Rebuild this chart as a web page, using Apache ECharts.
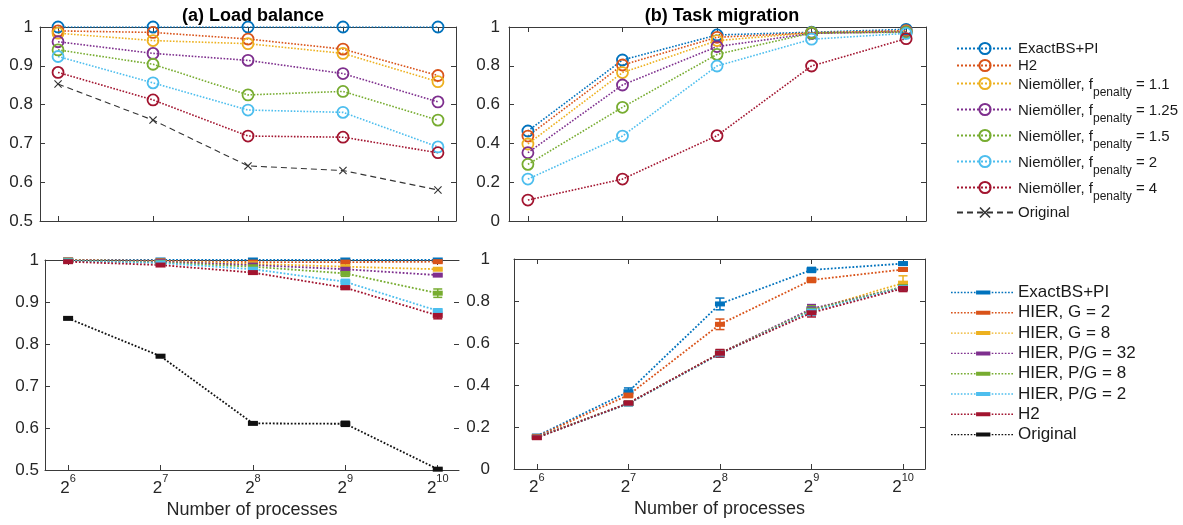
<!DOCTYPE html>
<html>
<head>
<meta charset="utf-8">
<script src="https://cdn.jsdelivr.net/npm/echarts@6/dist/echarts.min.js"></script>
<style>
  html, body { margin: 0; padding: 0; background: #fff; }
  #chart { width: 1183px; height: 525px; }
</style>
</head>
<body>
<div id="chart"></div>
<script>
// Process counts are powers of two; the x axis carries the exponent.
const exponents = [6, 7, 8, 9, 10];

// (a) Load balance
const lbExactBS  = [1.000, 1.000, 1.000, 1.000, 1.000];
const lbH2       = [0.990, 0.986, 0.969, 0.943, 0.875];
const lbNiem11   = [0.984, 0.965, 0.957, 0.932, 0.859];
const lbNiem125  = [0.962, 0.932, 0.914, 0.880, 0.807];
const lbNiem15   = [0.941, 0.904, 0.825, 0.834, 0.760];
const lbNiem2    = [0.924, 0.856, 0.786, 0.780, 0.691];
const lbNiem4    = [0.883, 0.812, 0.719, 0.716, 0.676];
const lbOriginal = [0.853, 0.760, 0.642, 0.630, 0.580];

// (b) Task migration
const tmExactBS  = [0.464, 0.830, 0.959, 0.973, 0.988];
const tmH2       = [0.438, 0.804, 0.947, 0.970, 0.981];
const tmNiem11   = [0.397, 0.765, 0.930, 0.970, 0.977];
const tmNiem125  = [0.352, 0.701, 0.899, 0.967, 0.975];
const tmNiem15   = [0.292, 0.586, 0.859, 0.969, 0.973];
const tmNiem2    = [0.216, 0.438, 0.799, 0.937, 0.967];
const tmNiem4    = [0.108, 0.216, 0.440, 0.799, 0.940];

// Hierarchical variants, load balance (mean and half-width of error bar)
const hlbExactBS = [1.000, 1.000, 1.000, 1.000, 1.000];
const hlbG2      = [1.000, 0.998, 0.995, 0.995, 0.996];
const hlbG8      = [0.999, 0.997, 0.991, 0.984, 0.978];
const hlbPG32    = [0.999, 0.996, 0.988, 0.978, 0.964];
const hlbPG8     = [0.999, 0.994, 0.984, 0.968, 0.921];
const hlbPG2     = [0.998, 0.993, 0.978, 0.948, 0.879];
const hlbH2      = [0.996, 0.988, 0.970, 0.934, 0.868];
const hlbOrig    = [0.861, 0.771, 0.611, 0.610, 0.502];

const hlbExactBSErr = [0.000, 0.000, 0.000, 0.000, 0.001];
const hlbG2Err      = [0.000, 0.001, 0.002, 0.003, 0.002];
const hlbG8Err      = [0.000, 0.001, 0.002, 0.002, 0.002];
const hlbPG32Err    = [0.000, 0.001, 0.002, 0.003, 0.002];
const hlbPG8Err     = [0.001, 0.001, 0.002, 0.007, 0.010];
const hlbPG2Err     = [0.001, 0.001, 0.003, 0.006, 0.005];
const hlbH2Err      = [0.001, 0.002, 0.003, 0.004, 0.008];
const hlbOrigErr    = [0.002, 0.003, 0.002, 0.006, 0.002];

// Hierarchical variants, task migration
const htmExactBS = [0.157, 0.368, 0.786, 0.948, 0.978];
const htmG2      = [0.155, 0.352, 0.689, 0.900, 0.950];
const htmG8      = [0.152, 0.313, 0.551, 0.757, 0.885];
const htmPG32    = [0.152, 0.313, 0.551, 0.763, 0.866];
const htmPG8     = [0.151, 0.312, 0.550, 0.757, 0.868];
const htmPG2     = [0.150, 0.311, 0.548, 0.752, 0.864];
const htmH2      = [0.149, 0.313, 0.551, 0.744, 0.860];

const htmExactBSErr = [0.005, 0.018, 0.028, 0.012, 0.008];
const htmG2Err      = [0.005, 0.012, 0.025, 0.012, 0.008];
const htmG8Err      = [0.005, 0.010, 0.015, 0.020, 0.035];
const htmPG32Err    = [0.005, 0.010, 0.015, 0.020, 0.015];
const htmPG8Err     = [0.005, 0.010, 0.015, 0.020, 0.015];
const htmPG2Err     = [0.005, 0.010, 0.015, 0.020, 0.015];
const htmH2Err      = [0.005, 0.010, 0.018, 0.020, 0.015];

const FONT = '"Liberation Sans", Arial, Helvetica, sans-serif';
const AXIS_COLOR = '#3a3a3a';
const TEXT_COLOR = '#262626';

const C = {
  blue: '#0072BD', orange: '#D95319', yellow: '#EDB120', purple: '#7E2F8E',
  green: '#77AC30', cyan: '#4DBEEE', red: '#A2142F', black: '#111111'
};

// Panel layout: (a) top-left, (b) top-right, hierarchical load bottom-left, hierarchical migration bottom-right
const grids = [
  { left: 40,  top: 27,  width: 416, height: 194 },
  { left: 509, top: 27,  width: 417, height: 194 },
  { left: 45,  top: 260, width: 414, height: 210 },
  { left: 514, top: 259, width: 411, height: 210 }
];
const xRanges = [[5.81, 10.19], [5.80, 10.21], [5.75, 10.23], [5.75, 10.24]];
const yRanges = [[0.5, 1, 0.1], [0, 1, 0.2], [0.5, 1, 0.1], [0, 1, 0.2]];
const yLabelMargin = [7, 9, 6, 24];

const axisLineStyle = { color: AXIS_COLOR, width: 1 };

const xAxes = [];
const yAxes = [];
grids.forEach((g, i) => {
  const labelled = i >= 2;
  xAxes.push({
    gridIndex: i, type: 'value', position: 'bottom',
    min: xRanges[i][0], max: xRanges[i][1],
    axisLine: { show: true, onZero: false, lineStyle: axisLineStyle },
    axisTick: { show: true, inside: true, length: 5, customValues: exponents, lineStyle: axisLineStyle },
    axisLabel: {
      show: labelled, customValues: exponents, margin: 3,
      formatter: v => '{b|2}{s|' + v + '}',
      rich: {
        b: { fontSize: 17, lineHeight: 24, verticalAlign: 'bottom', color: TEXT_COLOR, fontFamily: FONT },
        s: { fontSize: 11, lineHeight: 11, verticalAlign: 'top', color: TEXT_COLOR, fontFamily: FONT }
      }
    },
    splitLine: { show: false },
    name: labelled ? 'Number of processes' : '',
    nameLocation: 'middle', nameGap: 31,
    nameTextStyle: { fontSize: 18, color: TEXT_COLOR, fontFamily: FONT }
  });
  xAxes.push({
    gridIndex: i, type: 'value', position: 'top',
    min: xRanges[i][0], max: xRanges[i][1],
    axisLine: { show: true, onZero: false, lineStyle: axisLineStyle },
    axisTick: { show: true, inside: true, length: 5, customValues: exponents, lineStyle: axisLineStyle },
    axisLabel: { show: false },
    splitLine: { show: false }
  });
  yAxes.push({
    gridIndex: i, type: 'value', position: 'left',
    min: yRanges[i][0], max: yRanges[i][1], interval: yRanges[i][2],
    axisLine: { show: true, onZero: false, lineStyle: axisLineStyle },
    axisTick: { show: true, inside: true, length: 5, lineStyle: axisLineStyle },
    axisLabel: { margin: yLabelMargin[i], fontSize: 17, color: TEXT_COLOR, fontFamily: FONT },
    splitLine: { show: false }
  });
  yAxes.push({
    gridIndex: i, type: 'value', position: 'right',
    min: yRanges[i][0], max: yRanges[i][1], interval: yRanges[i][2],
    axisLine: { show: i !== 2, onZero: false, lineStyle: axisLineStyle },
    axisTick: { show: true, inside: true, length: 5, lineStyle: axisLineStyle },
    axisLabel: { show: false },
    splitLine: { show: false }
  });
});

const pts = vals => exponents.map((x, k) => [x, vals[k]]);

// Hollow-circle series for panels (a) and (b)
function circleSeries(name, color, vals, panel) {
  return {
    type: 'line', name, xAxisIndex: panel * 2, yAxisIndex: panel * 2,
    data: pts(vals), color,
    symbol: 'circle', symbolSize: 11,
    itemStyle: { color: 'rgba(255,255,255,0)', borderColor: color, borderWidth: 1.8 },
    lineStyle: { color, width: 1.6, type: 'dotted' },
    emphasis: { disabled: true }, silent: true
  };
}

const crossIcon = 'path://M0,1L1,0L5,4L9,0L10,1L6,5L10,9L9,10L5,6L1,10L0,9L4,5Z';

// Dotted line with a short solid bar in its middle, used as legend icon of the error-bar series
function barLegendIcon() {
  let d = '';
  for (let x = 0; x + 1.6 <= 24; x += 3.2) d += `M${x},1.3L${x + 1.6},1.3L${x + 1.6},2.7L${x},2.7Z`;
  d += 'M24.5,0L38.5,0L38.5,4L24.5,4Z';
  for (let x = 39.8; x + 1.6 <= 62; x += 3.2) d += `M${x},1.3L${x + 1.6},1.3L${x + 1.6},2.7L${x},2.7Z`;
  return 'path://' + d;
}

function rectSeries(name, color, vals, panel) {
  return {
    type: 'line', name, xAxisIndex: panel * 2, yAxisIndex: panel * 2,
    data: pts(vals), color,
    symbol: 'rect', symbolSize: [10, 5],
    itemStyle: { color, borderWidth: 0 },
    lineStyle: { color, width: 1.8, type: 'dotted' },
    emphasis: { disabled: true }, silent: true, clip: false
  };
}

function errorSeries(color, vals, errs, panel) {
  return {
    type: 'custom', xAxisIndex: panel * 2, yAxisIndex: panel * 2,
    data: exponents.map((x, k) => [x, vals[k] - errs[k], vals[k] + errs[k]]),
    renderItem(params, api) {
      const lo = api.coord([api.value(0), api.value(1)]);
      const hi = api.coord([api.value(0), api.value(2)]);
      const w = 4.5;
      const st = { stroke: color, lineWidth: 1.5 };
      return {
        type: 'group', children: [
          { type: 'line', shape: { x1: lo[0], y1: lo[1], x2: hi[0], y2: hi[1] }, style: st },
          { type: 'line', shape: { x1: lo[0] - w, y1: lo[1], x2: lo[0] + w, y2: lo[1] }, style: st },
          { type: 'line', shape: { x1: hi[0] - w, y1: hi[1], x2: hi[0] + w, y2: hi[1] }, style: st }
        ]
      };
    },
    silent: true, z: 3
  };
}

const topNames = {
  exact: 'ExactBS+PI', h2: 'H2',
  n11: 'Niemöller, fpenalty = 1.1', n125: 'Niemöller, fpenalty = 1.25',
  n15: 'Niemöller, fpenalty = 1.5', n2: 'Niemöller, fpenalty = 2',
  n4: 'Niemöller, fpenalty = 4', orig: 'Original'
};
// The lower legend reuses some labels; a trailing space keeps its series separate.
const bottomNames = {
  exact: 'ExactBS+PI ', g2: 'HIER, G = 2', g8: 'HIER, G = 8', pg32: 'HIER, P/G = 32',
  pg8: 'HIER, P/G = 8', pg2: 'HIER, P/G = 2', h2: 'H2 ', orig: 'Original '
};

const series = [
  // (a) Load balance
  circleSeries(topNames.exact, C.blue, lbExactBS, 0),
  circleSeries(topNames.h2, C.orange, lbH2, 0),
  circleSeries(topNames.n11, C.yellow, lbNiem11, 0),
  circleSeries(topNames.n125, C.purple, lbNiem125, 0),
  circleSeries(topNames.n15, C.green, lbNiem15, 0),
  circleSeries(topNames.n2, C.cyan, lbNiem2, 0),
  circleSeries(topNames.n4, C.red, lbNiem4, 0),
  {
    type: 'line', name: topNames.orig, xAxisIndex: 0, yAxisIndex: 0,
    data: pts(lbOriginal), color: '#333333',
    symbol: crossIcon, symbolSize: 8,
    itemStyle: { color: '#333333', borderWidth: 0 },
    lineStyle: { color: '#333333', width: 1.1, type: [6, 4] },
    emphasis: { disabled: true }, silent: true
  },
  // (b) Task migration
  circleSeries(topNames.exact, C.blue, tmExactBS, 1),
  circleSeries(topNames.h2, C.orange, tmH2, 1),
  circleSeries(topNames.n11, C.yellow, tmNiem11, 1),
  circleSeries(topNames.n125, C.purple, tmNiem125, 1),
  circleSeries(topNames.n15, C.green, tmNiem15, 1),
  circleSeries(topNames.n2, C.cyan, tmNiem2, 1),
  circleSeries(topNames.n4, C.red, tmNiem4, 1)
];

const hierLoad = [
  [bottomNames.exact, C.blue, hlbExactBS, hlbExactBSErr],
  [bottomNames.g2, C.orange, hlbG2, hlbG2Err],
  [bottomNames.g8, C.yellow, hlbG8, hlbG8Err],
  [bottomNames.pg32, C.purple, hlbPG32, hlbPG32Err],
  [bottomNames.pg8, C.green, hlbPG8, hlbPG8Err],
  [bottomNames.pg2, C.cyan, hlbPG2, hlbPG2Err],
  [bottomNames.h2, C.red, hlbH2, hlbH2Err],
  [bottomNames.orig, C.black, hlbOrig, hlbOrigErr]
];
const hierMig = [
  [bottomNames.exact, C.blue, htmExactBS, htmExactBSErr],
  [bottomNames.g2, C.orange, htmG2, htmG2Err],
  [bottomNames.g8, C.yellow, htmG8, htmG8Err],
  [bottomNames.pg32, C.purple, htmPG32, htmPG32Err],
  [bottomNames.pg8, C.green, htmPG8, htmPG8Err],
  [bottomNames.pg2, C.cyan, htmPG2, htmPG2Err],
  [bottomNames.h2, C.red, htmH2, htmH2Err]
];
hierLoad.forEach(([n, c, v, e]) => { series.push(rectSeries(n, c, v, 2)); series.push(errorSeries(c, v, e, 2)); });
hierMig.forEach(([n, c, v, e]) => { series.push(rectSeries(n, c, v, 3)); series.push(errorSeries(c, v, e, 3)); });

function topLegendLabel(name) {
  const m = name.match(/^(Niemöller, f)penalty( = .*)$/);
  if (m) return '{t|' + m[1] + '}{s|penalty}{t|' + m[2] + '}';
  return '{p|' + name + '}';
}

const barIcon = barLegendIcon();

const option = {
  animation: false,
  backgroundColor: '#ffffff',
  textStyle: { fontFamily: FONT },
  title: [
    { text: '(a) Load balance', left: 248, top: 2, textAlign: 'center',
      textStyle: { fontSize: 18, fontWeight: 'bold', color: '#000', fontFamily: FONT } },
    { text: '(b) Task migration', left: 717, top: 2, textAlign: 'center',
      textStyle: { fontSize: 18, fontWeight: 'bold', color: '#000', fontFamily: FONT } }
  ],
  legend: [
    {
      orient: 'vertical', left: 951, top: 36, itemWidth: 56, itemHeight: 14, itemGap: 2,
      selectedMode: false,
      data: Object.values(topNames),
      formatter: topLegendLabel,
      textStyle: {
        color: '#1a1a1a', fontFamily: FONT, fontSize: 15,
        rich: {
          p: { fontSize: 15, lineHeight: 18, color: '#1a1a1a', fontFamily: FONT },
          t: { fontSize: 15, lineHeight: 17, padding: [2, 0, 5, 0], verticalAlign: 'top', color: '#1a1a1a', fontFamily: FONT },
          s: { fontSize: 12, lineHeight: 12, padding: [12, 0, 0, 0], verticalAlign: 'top', color: '#1a1a1a', fontFamily: FONT }
        }
      }
    },
    {
      orient: 'vertical', left: 946, top: 279, itemWidth: 62, itemHeight: 4, itemGap: 3.3,
      selectedMode: false, symbolKeepAspect: false,
      itemStyle: { borderWidth: 0 },
      data: Object.values(bottomNames).map(n => ({ name: n, icon: barIcon })),
      formatter: n => '{p|' + n.trim() + '}',
      textStyle: {
        color: '#1a1a1a', fontFamily: FONT, fontSize: 17,
        rich: { p: { fontSize: 17, lineHeight: 18, color: '#1a1a1a', fontFamily: FONT } }
      }
    }
  ],
  grid: grids.map(g => Object.assign({ containLabel: false }, g)),
  xAxis: xAxes,
  yAxis: yAxes,
  series
};

const chart = echarts.init(document.getElementById('chart'), null, { renderer: 'canvas' });
chart.setOption(option);
</script>
</body>
</html>
